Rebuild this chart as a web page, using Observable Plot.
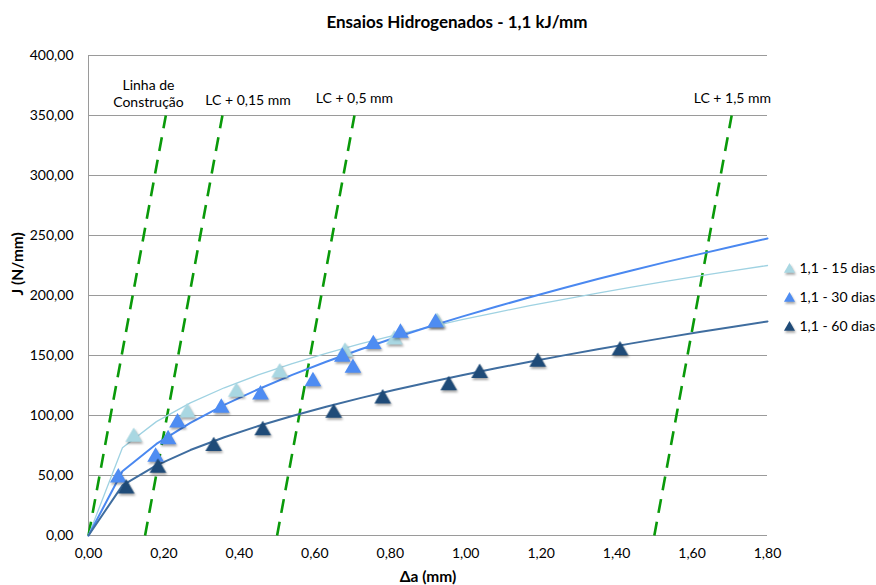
<!DOCTYPE html>
<html>
<head>
<meta charset="utf-8">
<script src="https://cdn.jsdelivr.net/npm/d3@7"></script>
<script src="https://cdn.jsdelivr.net/npm/@observablehq/plot@0.6"></script>
<style>
  html, body { margin: 0; padding: 0; background: #fff; }
  #chart svg { font-family: Lato, "Open Sans", sans-serif; }
  .shadowed { filter: drop-shadow(1px 2px 1.2px rgba(0,0,0,0.35)); }
</style>
</head>
<body>
<div id="chart"></div>
<script>
// ---- Data ----
const titleText = "Ensaios Hidrogenados - 1,1 kJ/mm";
const xLabel = "Δa (mm)";
const yLabel = "J (N/mm)";
const seriesNames = ["1,1 - 15 dias", "1,1 - 30 dias", "1,1 - 60 dias"];

// measured points
const da15 = [0.120, 0.262, 0.392, 0.507, 0.680, 0.811, 0.924];
const j15  = [83.3, 103.6, 120.8, 137.0, 154.2, 164.4, 179.0];

const da30 = [0.079, 0.178, 0.211, 0.236, 0.352, 0.456, 0.595, 0.673, 0.701, 0.755, 0.827, 0.920];
const j30  = [49.4, 66.7, 81.4, 95.3, 107.5, 118.6, 129.7, 150.0, 140.8, 160.6, 170.0, 178.5];

const da60 = [0.100, 0.184, 0.332, 0.462, 0.650, 0.780, 0.955, 1.037, 1.191, 1.409];
const j60  = [40.3, 57.5, 75.6, 88.9, 103.3, 115.3, 126.4, 136.5, 145.8, 155.4];

// trend curves
const curveX  = [0, 0.09, 0.18, 0.27, 0.36, 0.45, 0.54, 0.63, 0.72, 0.81, 0.90, 0.99, 1.08, 1.17, 1.26, 1.35, 1.44, 1.53, 1.62, 1.71, 1.80];
const curve15 = [0, 73.2, 94.9, 110.5, 123.1, 133.8, 143.3, 151.8, 159.6, 166.8, 173.5, 179.8, 185.8, 191.5, 196.8, 202.0, 206.9, 211.7, 216.3, 220.7, 225.0];
const curve30 = [0, 53.5, 76.3, 93.9, 108.8, 121.9, 133.8, 144.8, 155.0, 164.6, 173.7, 182.4, 190.6, 198.6, 206.3, 213.7, 220.8, 227.8, 234.5, 241.1, 247.5];
const curve60 = [0, 41.8, 58.5, 71.2, 81.9, 91.2, 99.6, 107.3, 114.5, 121.2, 127.5, 133.6, 139.3, 144.8, 150.1, 155.2, 160.1, 164.9, 169.5, 174.0, 178.4];

// construction line and offset lines
const lcOffsets = [0, 0.15, 0.5, 1.5];
const lcRun = 0.205;     // Δa advance of each line between J = 0 and J = 350
const lcTopJ = 350;
const lcLabels = ["Linha de\nConstrução", "LC + 0,15 mm", "LC + 0,5 mm", "LC + 1,5 mm"];
const lcLabelX = [0.159, 0.423, 0.705, 1.707];
const lcLabelY = [368.5, 363, 365, 365];

const xTicks = [0, 0.2, 0.4, 0.6, 0.8, 1.0, 1.2, 1.4, 1.6, 1.8];
const yTicks = [0, 50, 100, 150, 200, 250, 300, 350, 400];

// ---- styling ----
const markerColors = ["#a9d7e2", "#4e8cf2", "#1f4b78"];
const lineColors   = ["#9fd2e2", "#4a88f0", "#3f6d9f"];
const lineWidths   = [1.3, 2, 2];
const fmt = d => d.toFixed(2).replace(".", ",");

// ---- build tables ----
const pts = [
  da15.map((x, i) => ({x, y: j15[i]})),
  da30.map((x, i) => ({x, y: j30[i]})),
  da60.map((x, i) => ({x, y: j60[i]}))
];
const curves = [curve15, curve30, curve60].map(c => curveX.map((x, i) => ({x, y: c[i]})));
const lcLines = lcOffsets.map(o => ({x1: o, y1: 0, x2: o + lcRun, y2: lcTopJ}));
const lcText = lcLabels.map((t, i) => ({t, x: lcLabelX[i], y: lcLabelY[i]}));

const legendDy = [-27, 2, 31];

const marks = [
  Plot.gridY(yTicks, {stroke: "#9a9a9a", strokeOpacity: 1, strokeWidth: 1}),
  Plot.ruleX([0], {stroke: "#9a9a9a", strokeWidth: 1}),
  Plot.axisX(xTicks, {tickFormat: fmt, tickSize: 0, tickPadding: 13, fontSize: 14, fill: "#000", label: null}),
  Plot.axisY(yTicks, {tickFormat: fmt, tickSize: 0, tickPadding: 15, fontSize: 14, fill: "#000", label: null}),
  Plot.link(lcLines, {x1: "x1", y1: "y1", x2: "x2", y2: "y2", stroke: "#0a9a0a", strokeWidth: 2.6, strokeDasharray: "14,9"}),
  Plot.text(lcText, {x: "x", y: "y", text: "t", fontSize: 14, fill: "#000", lineHeight: 1.15})
];
[0, 1, 2].forEach(i => {
  marks.push(Plot.line(curves[i], {x: "x", y: "y", stroke: lineColors[i], strokeWidth: lineWidths[i]}));
});
[0, 1, 2].forEach(i => {
  marks.push(Plot.dot(pts[i], {x: "x", y: "y", dy: 1.5, symbol: "triangle", r: 6.2, fill: markerColors[i], stroke: "none", className: "shadowed"}));
});
// legend
[0, 1, 2].forEach(i => {
  marks.push(Plot.dot([seriesNames[i]], {frameAnchor: "right", dx: 22, dy: legendDy[i] + 1, symbol: "triangle", r: 4.1, fill: markerColors[i], className: "shadowed"}));
  marks.push(Plot.text([seriesNames[i]], {frameAnchor: "right", dx: 32, dy: legendDy[i], text: d => d, textAnchor: "start", fontSize: 14, fill: "#000"}));
});
// title and axis titles
marks.push(Plot.text([titleText], {frameAnchor: "top", dx: 29, dy: -33, text: d => d, fontSize: 17, fontWeight: "bold", fill: "#000", lineAnchor: "middle"}));
marks.push(Plot.text([xLabel], {frameAnchor: "bottom", dy: 42, text: d => d, fontSize: 15.5, fontWeight: "bold", fill: "#000", lineAnchor: "middle"}));
marks.push(Plot.text([yLabel], {frameAnchor: "left", dx: -70, text: d => d, fontSize: 15.5, fontWeight: "bold", fill: "#000", rotate: -90, lineAnchor: "middle"}));

const chart = Plot.plot({
  width: 876,
  height: 585,
  marginLeft: 88,
  marginRight: 109,
  marginTop: 55,
  marginBottom: 50,
  style: {fontFamily: "Lato, 'Open Sans', sans-serif", background: "#fff"},
  x: {domain: [0, 1.8]},
  y: {domain: [0, 400]},
  marks
});
document.getElementById("chart").appendChild(chart);
</script>
</body>
</html>
